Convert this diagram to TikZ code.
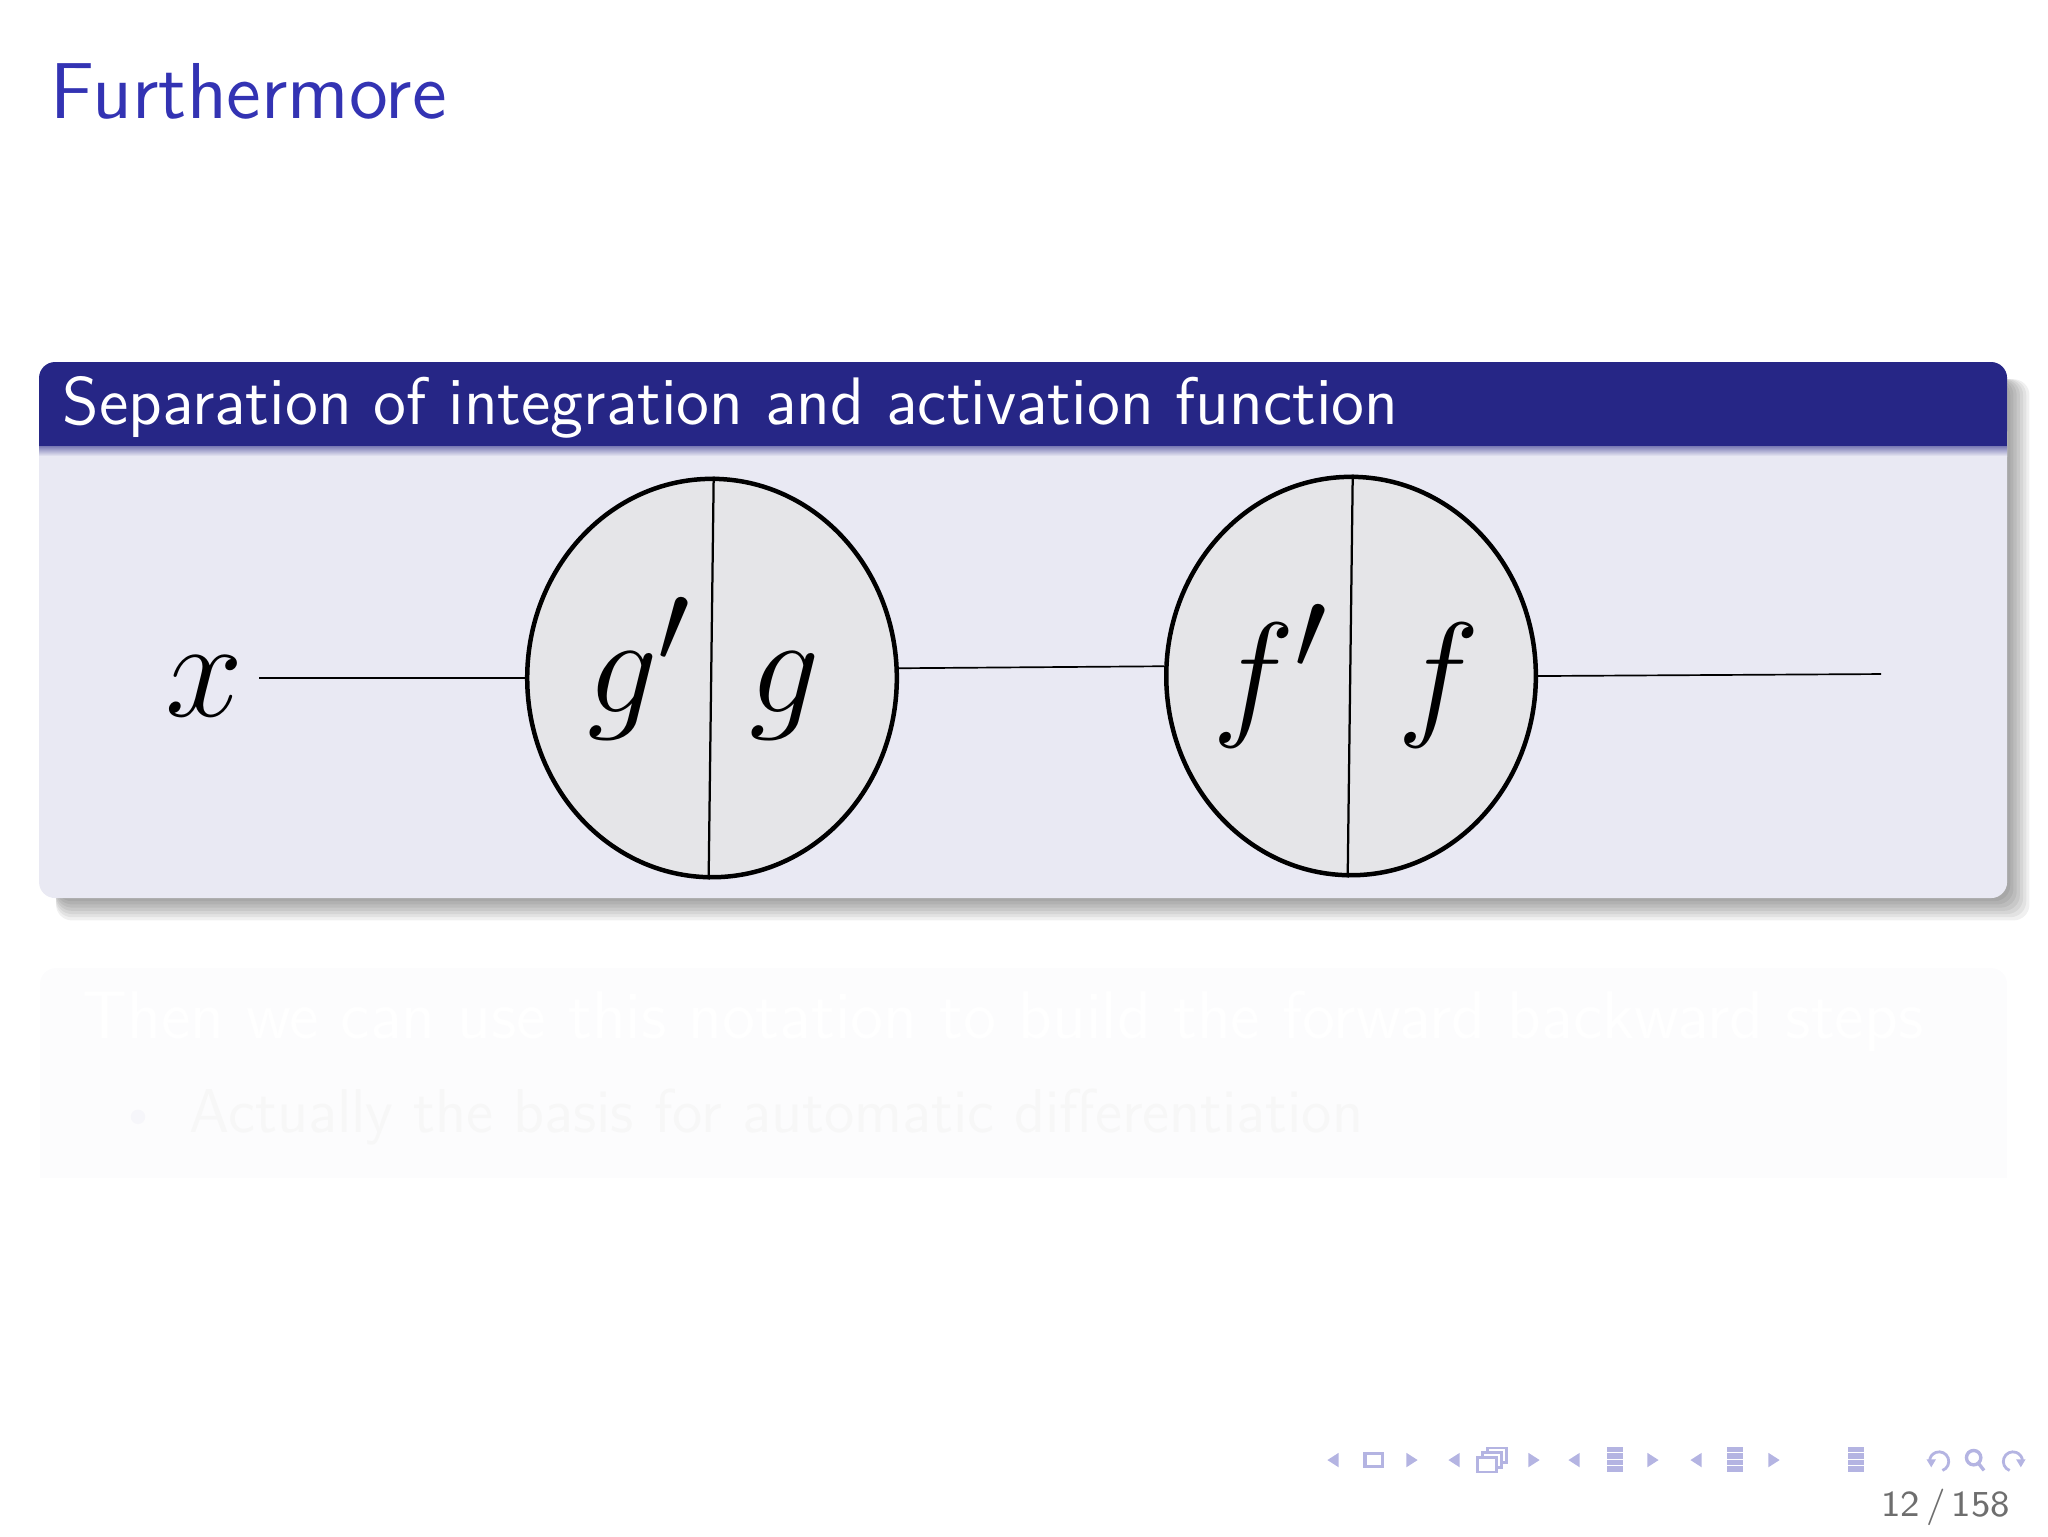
\documentclass[tikz,border=0pt]{standalone}
\usepackage{amsmath}
\usepackage{tikz}
\usepackage{xcolor}
\usetikzlibrary{shapes}
\usetikzlibrary{backgrounds}
\definecolor{structblue}{RGB}{51,51,179}
\definecolor{titlebg}{RGB}{38,38,134}
\definecolor{bodybg}{RGB}{233,233,243}
\definecolor{unitfill}{RGB}{229,229,232}
\definecolor{navblue}{RGB}{180,180,226}
\definecolor{pagegray}{RGB}{110,110,110}
\tikzset{unit/.style={ellipse,draw,line width=0.8pt,fill=unitfill,minimum width=2.31cm,minimum height=2.49cm,inner sep=0pt},
 wire/.style={line width=0.3pt},
 split/.style={line width=0.4pt},
 half/.style={font=\fontsize{24.88}{30}\selectfont,inner sep=0pt,anchor=base},
 navbar/.style={navblue,line width=1pt},
 }

\begin{document}
\begin{tikzpicture}
        \useasboundingbox (0,0) rectangle (12.8,-9.6);
        \node[anchor=base west,inner sep=0pt,text=structblue,font=\fontsize{14.1}{17}\sffamily] (frametitle) at (0.31,-0.7375) {Furthermore};
        % block with shadow
        \foreach \s in {0.02,0.04,...,0.14}
            \fill[black,opacity=0.06,rounded corners=0.1cm] (0.35,-2.37) rectangle (12.544+\s,-5.6125-\s);
        \fill[bodybg,rounded corners=0.1cm] (0.244,-2.2625) rectangle (12.544,-5.6125);
        \fill[titlebg,rounded corners=0.1cm] (0.244,-2.2625) rectangle (12.544,-2.79);
        \fill[titlebg] (0.244,-2.79) rectangle (12.544,-2.6);
        \shade[top color=titlebg!55!bodybg,bottom color=bodybg] (0.244,-2.79) rectangle (12.544,-2.85);
        \node[anchor=base west,inner sep=0pt,text=white,font=\fontsize{11.95}{14}\sffamily] (blocktitle) at (0.385,-2.656) {Separation of integration and activation function};
        \node[unit] (gnode) at (4.45,-4.2375) {};
        \node[unit] (fnode) at (8.444,-4.225) {};
        \draw[split] ([xshift=0.3pt]gnode.north) -- ([xshift=-0.6pt]gnode.south);
        \draw[split] ([xshift=0.3pt]fnode.north) -- ([xshift=-0.6pt]fnode.south);
        \node[half,inner xsep=2.6pt] (xlab) at (1.28,-4.48) {$x$};
        \node[half] (gder) at (4.0,-4.456) {$g'$};
        \node[half] (gfun) at (4.906,-4.456) {$g$};
        \node[half] (fder) at (7.944,-4.5) {$f'$};
        \node[half] (ffun) at (8.994,-4.5) {$f$};
        \coordinate (outend) at (11.756,-4.2125);
        \draw[wire] (xlab.east |- gnode.west) -- (gnode.west);
        \draw[wire] (gnode.3) -- (fnode.177);
        \draw[wire] (fnode.east) -- (outend);
        % faded block
        \fill[titlebg!1.5,rounded corners=0.1cm] (0.25,-6.05) rectangle (12.544,-6.625);
        \fill[titlebg!1.5] (0.25,-6.625) rectangle (12.544,-6.4);
        \fill[bodybg!12] (0.25,-6.625) rectangle (12.544,-7.36);
        \node[anchor=base west,inner sep=0pt,text=white,font=\fontsize{12}{14}\sffamily] (fadetitle) at (0.506,-6.4875) {Then we can use this notation to build the forward backward steps};
        \fill[titlebg!4] (0.8625,-6.98) circle (0.045);
        \node[anchor=base west,inner sep=0pt,text=black!3,font=\fontsize{11}{13}\sffamily] (fadeitem) at (1.18,-7.075) {Actually the basis for automatic differentiation};
        % navigation symbols
        \foreach \lx/\rx in {8.331/8.825,9.0875/9.5875,9.8375/10.331,10.6/11.0875} {
            \fill[navblue] (\lx-0.035,-9.125) -- (\lx+0.035,-9.08) -- (\lx+0.035,-9.17) -- cycle;
            \fill[navblue] (\rx+0.035,-9.125) -- (\rx-0.035,-9.08) -- (\rx-0.035,-9.17) -- cycle;
        }
        \draw[navblue,line width=0.6pt] (8.53,-9.085) rectangle (8.64,-9.165);
        \foreach \d in {0.06,0.03,0}
            \filldraw[draw=navblue,fill=white,line width=0.5pt] (9.235+\d,-9.2+\d) rectangle (9.355+\d,-9.11+\d);
        \foreach \cx in {10.094,10.844,11.6}
            \foreach \cy in {-9.06,-9.1,-9.14,-9.18}
                \draw[navbar] (\cx-0.05,\cy) -- (\cx+0.05,\cy);
        \draw[navblue,line width=0.5pt] (12.14,-9.19) arc (-70:180:0.06);
        \fill[navblue] (12.04,-9.12) -- (12.1,-9.12) -- (12.07,-9.17) -- cycle;
        \draw[navblue,line width=0.6pt] (12.335,-9.11) circle (0.045) (12.365,-9.145) -- (12.4,-9.19);
        \draw[navblue,line width=0.5pt] (12.56,-9.19) arc (250:0:0.06);
        \fill[navblue] (12.66,-9.12) -- (12.6,-9.12) -- (12.63,-9.17) -- cycle;
        \node[anchor=base east,inner sep=0pt,text=pagegray,font=\fontsize{6.5}{8}\sffamily] (pagenum) at (12.57,-9.48) {12\,/\,158};
    \end{tikzpicture}
\end{document}
